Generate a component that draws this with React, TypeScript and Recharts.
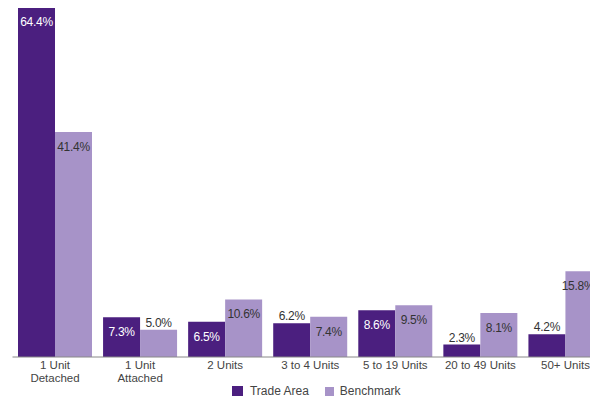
import React from 'react'
import { BarChart, Bar, XAxis, YAxis, Legend, LabelList } from 'recharts'

const categories = ['1 Unit|Detached', '1 Unit|Attached', '2 Units', '3 to 4 Units', '5 to 19 Units', '20 to 49 Units', '50+ Units']
const tradeArea = [64.4, 7.3, 6.5, 6.2, 8.6, 2.3, 4.2]
const benchmark = [41.4, 5.0, 10.6, 7.4, 9.5, 8.1, 15.8]

const DARK = '#4B1F7F'
const LIGHT = '#A793C8'
const FONT = '"Liberation Sans", Arial, sans-serif'

const data = categories.map((c, i) => ({ name: c, trade: tradeArea[i], bench: benchmark[i] }))

// labels sit inside the bar top when it's tall enough, above it otherwise
const makeLabel = (insideColor: string) => (props: any) => {
  const { x, y, width, value } = props
  const inside = value > 6.3
  const cx = Math.min(x + width / 2, 578)
  return (
    <text
      x={cx} y={inside ? y + 15 : y - 7}
      textAnchor="middle" dominantBaseline="central"
      fontSize={12} fontFamily={FONT} letterSpacing={-0.3}
      fill={inside ? insideColor : '#333'}
    >
      {value.toFixed(1)}%
    </text>
  )
}

const Tick = ({ x, y, payload }: any) => {
  const lines = String(payload.value).split('|')
  return (
    <g>
      {lines.map((l, i) => (
        <text key={i} x={x} y={y + i * 13} textAnchor="middle" dominantBaseline="central"
          fontSize={11.5} fontFamily={FONT} fill="#444">
          {l}
        </text>
      ))}
    </g>
  )
}

const LegendContent = () => (
  <div style={{ display: 'flex', justifyContent: 'center', alignItems: 'center', fontFamily: FONT, fontSize: 12, lineHeight: '14px', color: '#444', paddingLeft: 12 }}>
    <span style={{ width: 11, height: 11, background: DARK, display: 'inline-block', marginRight: 7 }} />
    <span style={{ marginRight: 16 }}>Trade Area</span>
    <span style={{ width: 9, height: 9, background: LIGHT, display: 'inline-block', marginRight: 6 }} />
    <span>Benchmark</span>
  </div>
)

export default function App() {
  return (
    <div style={{ margin: -8, width: 598, height: 404, overflow: 'hidden', background: '#fff' }}>
      <BarChart width={608} height={404} data={data} margin={{ top: 7, right: 0, left: 12.5, bottom: 0 }}
        barGap={0} barCategoryGap={5.5}>
        <XAxis dataKey="name" interval={0} height={27} tickLine={false}
          axisLine={{ stroke: '#888', strokeWidth: 1 }} tick={<Tick />} />
        <YAxis hide domain={[0, 64.4]} />
        <Legend verticalAlign="bottom" height={20} content={<LegendContent />} />
        <Bar dataKey="trade" fill={DARK} isAnimationActive={false}>
          <LabelList dataKey="trade" content={makeLabel('#fff')} />
        </Bar>
        <Bar dataKey="bench" fill={LIGHT} isAnimationActive={false}>
          <LabelList dataKey="bench" content={makeLabel('#333')} />
        </Bar>
      </BarChart>
    </div>
  )
}
